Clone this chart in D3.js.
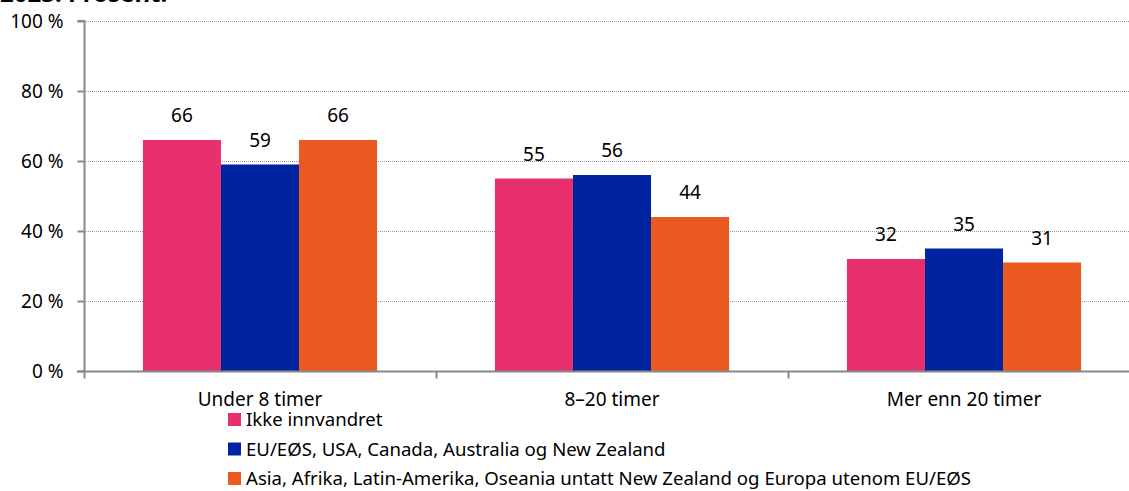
<!DOCTYPE html>
<html>
<head>
<meta charset="utf-8">
<script src="https://cdn.jsdelivr.net/npm/d3@7"></script>
<style>
  body { margin: 0; background: #fff; }
  svg { display: block; font-family: "Noto Sans", sans-serif; }
</style>
</head>
<body>
<div id="chart"></div>
<script>
// data
const categories = ['Under 8 timer', '8–20 timer', 'Mer enn 20 timer'];
const seriesNames = [
  'Ikke innvandret',
  'EU/EØS, USA, Canada, Australia og New Zealand',
  'Asia, Afrika, Latin-Amerika, Oseania untatt New Zealand og Europa utenom EU/EØS'
];
const ikkeInnvandret = [66, 55, 32];
const euEos = [59, 56, 35];
const asiaAfrika = [66, 44, 31];
const yTicks = [0, 20, 40, 60, 80, 100];
const colors = ['#e8306f', '#0024a0', '#ea5a20'];

const W = 1129, H = 491;
const x0 = 84, x1 = 1140, yTop = 21, yBottom = 371;
const fs = 19;

const svg = d3.select('#chart').append('svg')
  .attr('width', W)
  .attr('height', H);

// title, cut off at the top edge as in the source
svg.append('text')
  .attr('x', 0).attr('y', 2)
  .attr('font-size', 24).attr('font-weight', 'bold')
  .attr('fill', '#000')
  .text('2023. Prosent.');

const x = d3.scaleBand().domain(categories).range([x0, x1]).paddingInner(0).paddingOuter(0);
const xs = d3.scaleBand().domain(d3.range(3)).range([0, x.bandwidth()]).paddingInner(0).paddingOuter(0.755);
const y = d3.scaleLinear().domain([0, 100]).range([yBottom, yTop]);

// gridlines
svg.append('g')
  .selectAll('line')
  .data(yTicks.filter(d => d > 0))
  .enter().append('line')
  .attr('x1', x0).attr('x2', W)
  .attr('y1', d => y(d) + 0.5).attr('y2', d => y(d) + 0.5)
  .attr('stroke', '#999').attr('stroke-dasharray', '1,1');

const rows = categories.map((c, i) => ({ cat: c, vals: [ikkeInnvandret[i], euEos[i], asiaAfrika[i]] }));

const groups = svg.append('g').selectAll('g')
  .data(rows).enter().append('g')
  .attr('transform', d => `translate(${x(d.cat)},0)`);

groups.selectAll('rect')
  .data(d => d.vals.map((v, i) => ({ v, i })))
  .enter().append('rect')
  .attr('x', d => xs(d.i))
  .attr('width', xs.bandwidth())
  .attr('y', d => y(d.v))
  .attr('height', d => yBottom - y(d.v))
  .attr('fill', d => colors[d.i]);

groups.selectAll('text')
  .data(d => d.vals.map((v, i) => ({ v, i })))
  .enter().append('text')
  .attr('x', d => xs(d.i) + xs.bandwidth() / 2)
  .attr('y', d => y(d.v) - 18)
  .attr('text-anchor', 'middle')
  .attr('font-size', fs)
  .attr('fill', '#000')
  .text(d => d.v);

// y axis
const yAxis = svg.append('g')
  .attr('transform', `translate(${x0 + 0.5},0)`)
  .call(d3.axisLeft(y).tickValues(yTicks).tickSize(7).tickPadding(14).tickFormat(d => d + ' %'));
yAxis.selectAll('path, line').attr('stroke', '#888').attr('stroke-width', 2);
yAxis.select('.domain').attr('d', `M-7,${yTop}H0V${yBottom}`);
yAxis.selectAll('text').attr('font-size', fs).attr('fill', '#000').attr('font-family', '"Noto Sans", sans-serif');

// x axis
const xAxis = svg.append('g')
  .attr('transform', `translate(0,${yBottom + 0.5})`);
xAxis.append('line')
  .attr('x1', x0 - 7).attr('x2', W)
  .attr('stroke', '#888').attr('stroke-width', 2);
xAxis.selectAll('.tk')
  .data(categories).enter().append('line')
  .attr('x1', d => x(d) + 0.5).attr('x2', d => x(d) + 0.5)
  .attr('y1', 0).attr('y2', 7)
  .attr('stroke', '#888').attr('stroke-width', 2);
xAxis.selectAll('text')
  .data(categories).enter().append('text')
  .attr('x', d => x(d) + x.bandwidth() / 2)
  .attr('y', 34)
  .attr('text-anchor', 'middle')
  .attr('font-size', fs)
  .attr('fill', '#000')
  .text(d => d);

// legend
const legend = svg.append('g').attr('transform', 'translate(228,0)');
const lg = legend.selectAll('g').data(seriesNames).enter().append('g')
  .attr('transform', (d, i) => `translate(0,${420 + i * 29.5})`);
lg.append('rect')
  .attr('x', 0).attr('y', -7).attr('width', 13).attr('height', 13)
  .attr('fill', (d, i) => colors[i]);
lg.append('text')
  .attr('x', 18).attr('y', 6)
  .attr('font-size', 18.6).attr('fill', '#000')
  .text(d => d);
</script>
</body>
</html>
